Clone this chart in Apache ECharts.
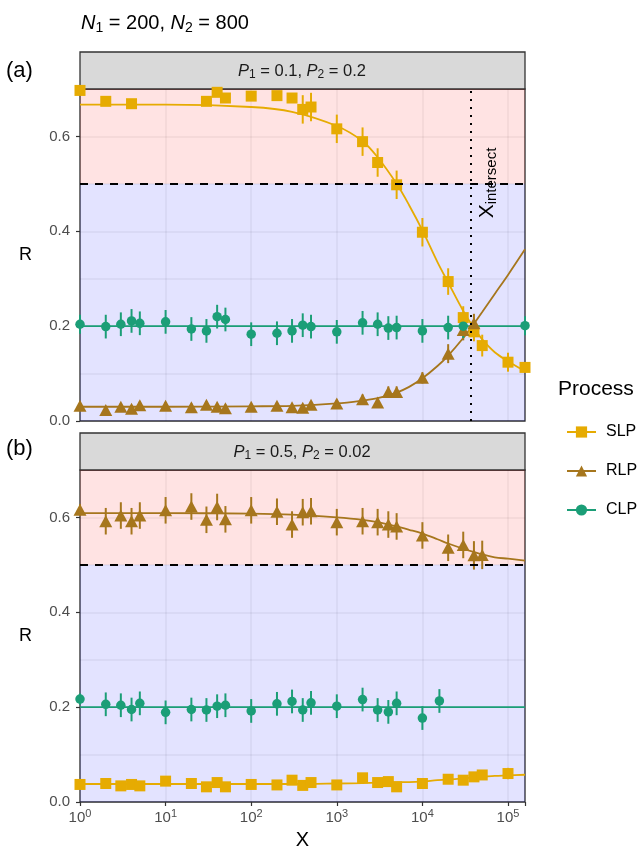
<!DOCTYPE html>
<html>
<head>
<meta charset="utf-8">
<script src="https://cdn.jsdelivr.net/npm/echarts@6/dist/echarts.min.js"></script>
<style>
  html, body { margin: 0; padding: 0; background: #fff; }
  #chart { width: 642px; height: 857px; }
</style>
</head>
<body>
<div id="chart"></div>
<script>
// values
const xMax = 158000
const fitX = [1, 10, 100, 300, 1000, 2000, 3000, 5000, 7000, 10000, 15000, 20000, 30000, 40000, 50000, 70000, 100000, 158000]

// panel (a)  P1 = 0.1, P2 = 0.2
const slpXa = [1, 2, 4, 30, 40, 50, 100, 200, 300, 400, 500, 1000, 2000, 3000, 5000, 10000, 20000, 30000, 40000, 50000, 100000, 158000]
const slpRa = [0.697, 0.674, 0.669, 0.674, 0.693, 0.681, 0.685, 0.686, 0.681, 0.657, 0.662, 0.616, 0.589, 0.545, 0.498, 0.398, 0.294, 0.218, 0.188, 0.159, 0.124, 0.113]
const slpEa = [0.008, 0.008, 0.008, 0.008, 0.008, 0.008, 0.008, 0.008, 0.008, 0.03, 0.03, 0.03, 0.03, 0.03, 0.03, 0.03, 0.028, 0.024, 0.02, 0.023, 0.02, 0.01]
const slpFitA = [0.667, 0.667, 0.662, 0.652, 0.622, 0.590, 0.556, 0.500, 0.455, 0.402, 0.335, 0.292, 0.232, 0.196, 0.172, 0.145, 0.126, 0.105]

const rlpXa = [1, 2, 3, 4, 5, 10, 20, 30, 40, 50, 100, 200, 300, 400, 500, 1000, 2000, 3000, 4000, 5000, 10000, 20000, 30000, 40000]
const rlpRa = [0.032, 0.023, 0.030, 0.026, 0.033, 0.032, 0.029, 0.034, 0.030, 0.027, 0.030, 0.032, 0.029, 0.028, 0.034, 0.037, 0.046, 0.039, 0.061, 0.061, 0.091, 0.142, 0.192, 0.206]
const rlpEa = [0.008, 0.008, 0.008, 0.008, 0.008, 0.008, 0.008, 0.008, 0.008, 0.008, 0.008, 0.008, 0.008, 0.008, 0.008, 0.008, 0.01, 0.008, 0.012, 0.012, 0.012, 0.02, 0.022, 0.02]
const rlpFitA = [0.030, 0.030, 0.031, 0.032, 0.037, 0.043, 0.048, 0.060, 0.072, 0.090, 0.116, 0.138, 0.175, 0.205, 0.230, 0.268, 0.308, 0.362]

const clpXa = [1, 2, 3, 4, 5, 10, 20, 30, 40, 50, 100, 200, 300, 400, 500, 1000, 2000, 3000, 4000, 5000, 10000, 20000, 30000, 158000]
const clpRa = [0.204, 0.199, 0.204, 0.211, 0.206, 0.209, 0.194, 0.190, 0.220, 0.214, 0.183, 0.185, 0.190, 0.202, 0.199, 0.188, 0.207, 0.204, 0.196, 0.197, 0.190, 0.197, 0.200, 0.201]
const clpEa = [0.02, 0.025, 0.025, 0.025, 0.025, 0.025, 0.025, 0.025, 0.025, 0.025, 0.025, 0.025, 0.025, 0.025, 0.025, 0.025, 0.025, 0.025, 0.025, 0.025, 0.025, 0.025, 0.025, 0.02]
const clpFitA = [0.2, 0.2, 0.2, 0.2, 0.2, 0.2, 0.2, 0.2, 0.2, 0.2, 0.2, 0.2, 0.2, 0.2, 0.2, 0.2, 0.2, 0.2]

const xIntersect = 37000

// panel (b)  P1 = 0.5, P2 = 0.02
const slpXb = [1, 2, 3, 4, 5, 10, 20, 30, 40, 50, 100, 200, 300, 400, 500, 1000, 2000, 3000, 4000, 5000, 10000, 20000, 30000, 40000, 50000, 100000]
const slpRb = [0.037, 0.039, 0.034, 0.037, 0.034, 0.044, 0.039, 0.032, 0.041, 0.032, 0.037, 0.036, 0.046, 0.035, 0.041, 0.036, 0.051, 0.041, 0.043, 0.032, 0.039, 0.048, 0.046, 0.053, 0.057, 0.060]
const slpEb = [0.008, 0.008, 0.008, 0.008, 0.008, 0.01, 0.008, 0.008, 0.008, 0.008, 0.008, 0.008, 0.01, 0.008, 0.008, 0.008, 0.01, 0.008, 0.01, 0.008, 0.008, 0.01, 0.01, 0.01, 0.01, 0.012]
const slpFitB = [0.038, 0.038, 0.038, 0.038, 0.039, 0.040, 0.041, 0.042, 0.042, 0.043, 0.046, 0.047, 0.050, 0.052, 0.053, 0.055, 0.056, 0.0575]

const rlpXb = [1, 2, 3, 4, 5, 10, 20, 30, 40, 50, 100, 200, 300, 400, 500, 1000, 2000, 3000, 4000, 5000, 10000, 20000, 30000, 40000, 50000]
const rlpRb = [0.616, 0.592, 0.604, 0.592, 0.604, 0.615, 0.623, 0.595, 0.622, 0.596, 0.615, 0.612, 0.585, 0.611, 0.613, 0.590, 0.592, 0.590, 0.585, 0.581, 0.562, 0.536, 0.542, 0.520, 0.521]
const rlpEb = [0.012, 0.028, 0.028, 0.028, 0.028, 0.028, 0.028, 0.028, 0.028, 0.028, 0.028, 0.028, 0.028, 0.028, 0.028, 0.028, 0.028, 0.028, 0.028, 0.028, 0.028, 0.028, 0.028, 0.03, 0.03]
const rlpFitB = [0.609, 0.609, 0.608, 0.606, 0.600, 0.595, 0.590, 0.581, 0.574, 0.566, 0.554, 0.545, 0.534, 0.527, 0.522, 0.516, 0.513, 0.509]

const clpXb = [1, 2, 3, 4, 5, 10, 20, 30, 40, 50, 100, 200, 300, 400, 500, 1000, 2000, 3000, 4000, 5000, 10000, 15800]
const clpRb = [0.217, 0.206, 0.204, 0.195, 0.208, 0.189, 0.195, 0.194, 0.202, 0.204, 0.192, 0.207, 0.212, 0.194, 0.209, 0.202, 0.216, 0.194, 0.190, 0.208, 0.177, 0.213]
const clpEb = [0.012, 0.025, 0.025, 0.025, 0.025, 0.025, 0.025, 0.025, 0.025, 0.025, 0.025, 0.025, 0.025, 0.025, 0.025, 0.025, 0.025, 0.025, 0.025, 0.025, 0.025, 0.025]
const clpFitB = [0.2, 0.2, 0.2, 0.2, 0.2, 0.2, 0.2, 0.2, 0.2, 0.2, 0.2, 0.2, 0.2, 0.2, 0.2, 0.2, 0.2, 0.2]

const yTicks = [0, 0.2, 0.4, 0.6]
const processes = ['SLP', 'RLP', 'CLP']
const colors = { SLP: '#E6AB02', RLP: '#A6761D', CLP: '#1B9E77' }
const symbols = { SLP: 'rect', RLP: 'triangle', CLP: 'circle' }
const symbolSizes = { SLP: 11, RLP: [13, 12], CLP: 9.5 }

const FONT = 'Liberation Sans, Arial, Helvetica, sans-serif'
const gridLine = { show: true, lineStyle: { color: 'rgba(0,0,0,0.065)', width: 1.5 } }

const panels = [
  {
    SLP: [slpXa, slpRa, slpEa, slpFitA],
    RLP: [rlpXa, rlpRa, rlpEa, rlpFitA],
    CLP: [clpXa, clpRa, clpEa, clpFitA]
  },
  {
    SLP: [slpXb, slpRb, slpEb, slpFitB],
    RLP: [rlpXb, rlpRb, rlpEb, rlpFitB],
    CLP: [clpXb, clpRb, clpEb, clpFitB]
  }
]

const chart = echarts.init(document.getElementById('chart'))

const series = []
panels.forEach(function (panel, p) {
  // shaded regions and reference lines
  const lines = [{ yAxis: 0.5, lineStyle: { type: [8, 7], color: '#000', width: 1.8 } }]
  if (p === 0) lines.push({ xAxis: xIntersect, lineStyle: { type: [2, 6], color: '#000', width: 2 } })
  series.push({
    type: 'line',
    xAxisIndex: p,
    yAxisIndex: p * 2,
    data: [],
    z: 1,
    silent: true,
    markArea: {
      silent: true,
      data: [
        [{ yAxis: 0.5, itemStyle: { color: 'rgba(255,0,0,0.11)' } }, { yAxis: 0.7 }],
        [{ yAxis: 0, itemStyle: { color: 'rgba(0,0,255,0.11)' } }, { yAxis: 0.5 }]
      ]
    },
    markLine: {
      silent: true,
      symbol: 'none',
      animation: false,
      label: { show: false },
      data: lines
    }
  })
  processes.forEach(function (proc) {
    const d = panel[proc]
    const color = colors[proc]
    series.push({
      name: proc,
      type: 'line',
      xAxisIndex: p,
      yAxisIndex: p * 2,
      data: fitX.map(function (x, i) { return [x, d[3][i]] }),
      smooth: 0.35,
      showSymbol: false,
      symbol: symbols[proc],
      symbolSize: 9,
      lineStyle: { color: color, width: 1.8 },
      itemStyle: { color: color },
      z: 2,
      silent: true
    })
    series.push({
      type: 'custom',
      xAxisIndex: p,
      yAxisIndex: p * 2,
      data: d[0].map(function (x, i) { return [x, d[1][i] - d[2][i], d[1][i] + d[2][i]] }),
      encode: { x: 0, y: [1, 2] },
      z: 3,
      silent: true,
      renderItem: function (params, api) {
        const a = api.coord([api.value(0), api.value(1)])
        const b = api.coord([api.value(0), api.value(2)])
        return {
          type: 'line',
          shape: { x1: a[0], y1: a[1], x2: b[0], y2: b[1] },
          style: { stroke: color, lineWidth: 2 }
        }
      }
    })
    series.push({
      type: 'scatter',
      xAxisIndex: p,
      yAxisIndex: p * 2,
      data: d[0].map(function (x, i) { return [x, d[1][i]] }),
      symbol: symbols[proc],
      symbolSize: symbolSizes[proc],
      itemStyle: { color: color, opacity: 1 },
      z: 4,
      silent: true
    })
  })
})

function xLabel (v) {
  const e = Math.log10(v)
  if (Math.abs(e - Math.round(e)) > 1e-6) return ''
  return '{b|10}{s|' + Math.round(e) + '}'
}

function xAxisFor (p) {
  const bottom = p === 1
  return {
    gridIndex: p,
    type: 'log',
    logBase: 10,
    min: 1,
    max: xMax,
    axisLine: { show: false },
    axisTick: { show: bottom, length: 4, lineStyle: { color: '#333', width: 1.2 } },
    axisLabel: {
      show: bottom,
      margin: 7,
      formatter: xLabel,
      rich: {
        b: { fontFamily: FONT, fontSize: 15, color: '#4d4d4d', lineHeight: 18 },
        s: { fontFamily: FONT, fontSize: 11, color: '#4d4d4d', lineHeight: 18, padding: [0, 0, 9, 0] }
      }
    },
    splitLine: gridLine,
    name: bottom ? 'X' : '',
    nameLocation: 'middle',
    nameGap: 28,
    nameTextStyle: { fontFamily: FONT, fontSize: 20, color: '#000' }
  }
}

function yAxesFor (p) {
  return [
    {
      gridIndex: p,
      type: 'value',
      position: 'left',
      min: 0,
      max: 0.7,
      interval: 0.1,
      axisLine: { show: false },
      axisTick: { show: false },
      axisLabel: { show: false },
      splitLine: gridLine
    },
    {
      gridIndex: p,
      type: 'value',
      position: 'left',
      offset: 0,
      min: 0,
      max: 0.7,
      axisLine: { show: false },
      axisTick: { show: true, length: 4, customValues: yTicks, lineStyle: { color: '#333', width: 1.2 } },
      axisLabel: {
        customValues: yTicks,
        margin: 10,
        fontFamily: FONT,
        fontSize: 15,
        color: '#4d4d4d',
        formatter: function (v) { return v.toFixed(1) }
      },
      splitLine: { show: false },
      name: 'R',
      nameLocation: 'middle',
      nameRotate: 0,
      nameGap: 48,
      nameTextStyle: { fontFamily: FONT, fontSize: 18, color: '#000' }
    }
  ]
}

function stripText (p1, p2) {
  return '{i|P}{s|1}{t| = ' + p1 + ', }{i|P}{s|2}{t| = ' + p2 + '}'
}
const stripRich = {
  i: { fontFamily: FONT, fontSize: 16.5, fontStyle: 'italic', fill: '#1a1a1a', lineHeight: 19 },
  s: { fontFamily: FONT, fontSize: 12, fill: '#1a1a1a', lineHeight: 19, padding: [8, 0, 0, 0] },
  t: { fontFamily: FONT, fontSize: 16.5, fill: '#1a1a1a', lineHeight: 19 }
}

chart.setOption({
  animation: false,
  grid: [
    { left: 80, top: 89, width: 445, height: 332, show: true, borderColor: '#333', borderWidth: 1.3, backgroundColor: 'transparent' },
    { left: 80, top: 470, width: 445, height: 332, show: true, borderColor: '#333', borderWidth: 1.3, backgroundColor: 'transparent' }
  ],
  xAxis: [xAxisFor(0), xAxisFor(1)],
  yAxis: yAxesFor(0).concat(yAxesFor(1)),
  legend: {
    data: processes,
    orient: 'vertical',
    left: 561,
    top: 419,
    itemWidth: 29,
    itemHeight: 14,
    itemGap: 23,
    selectedMode: false,
    textStyle: { fontFamily: FONT, fontSize: 16, color: '#000', padding: [0, 0, 0, 5] }
  },
  graphic: [
    { type: 'rect', z: 1, shape: { x: 80, y: 52, width: 445, height: 37 }, style: { fill: '#d9d9d9', stroke: '#333', lineWidth: 1.3 } },
    { type: 'rect', z: 1, shape: { x: 80, y: 433, width: 445, height: 37 }, style: { fill: '#d9d9d9', stroke: '#333', lineWidth: 1.3 } },
    { type: 'text', z: 5, x: 302, y: 71, style: { text: stripText('0.1', '0.2'), rich: stripRich, textAlign: 'center', textVerticalAlign: 'middle' } },
    { type: 'text', z: 5, x: 302, y: 452, style: { text: stripText('0.5', '0.02'), rich: stripRich, textAlign: 'center', textVerticalAlign: 'middle' } },
    {
      type: 'text', z: 5, x: 81, y: 23,
      style: {
        text: '{i|N}{s|1}{t| = 200, }{i|N}{s|2}{t| = 800}',
        textVerticalAlign: 'middle',
        rich: {
          i: { fontFamily: FONT, fontSize: 20, fontStyle: 'italic', fill: '#000', lineHeight: 24 },
          s: { fontFamily: FONT, fontSize: 14, fill: '#000', lineHeight: 24, padding: [10, 0, 0, 0] },
          t: { fontFamily: FONT, fontSize: 20, fill: '#000', lineHeight: 24 }
        }
      }
    },
    { type: 'text', z: 5, x: 6, y: 71, style: { text: '(a)', font: '22px ' + FONT, fill: '#000', textVerticalAlign: 'middle' } },
    { type: 'text', z: 5, x: 6, y: 449, style: { text: '(b)', font: '22px ' + FONT, fill: '#000', textVerticalAlign: 'middle' } },
    { type: 'text', z: 5, x: 558, y: 389, style: { text: 'Process', font: '21px ' + FONT, fill: '#000', textVerticalAlign: 'middle' } },
    {
      type: 'text', z: 5, x: 487, y: 183, rotation: Math.PI / 2,
      style: {
        text: '{x|X}{s|intersect}',
        textAlign: 'center',
        textVerticalAlign: 'middle',
        rich: {
          x: { fontFamily: FONT, fontSize: 21, fill: '#000', lineHeight: 22 },
          s: { fontFamily: FONT, fontSize: 15, fill: '#000', lineHeight: 22, padding: [9, 0, 0, 0] }
        }
      }
    }
  ],
  series: series
})
</script>
</body>
</html>
